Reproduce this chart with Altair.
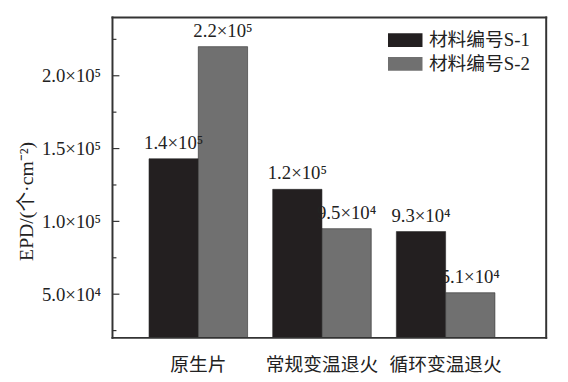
import altair as alt
import pandas as pd

categories = ["原生片", "常规变温退火", "循环变温退火"]
series = ["材料编号S-1", "材料编号S-2"]
s1_values = [143000, 122000, 93000]
s2_values = [220000, 95000, 51000]
s1_labels = ["1.4×10⁵", "1.2×10⁵", "9.3×10⁴"]
s2_labels = ["2.2×10⁵", "9.5×10⁴", "5.1×10⁴"]
major_ticks = [50000, 100000, 150000, 200000]
minor_ticks = [25000, 75000, 125000, 175000, 225000]

rows = []
for i, c in enumerate(categories):
    rows.append({"cat": c, "series": series[0], "value": s1_values[i], "label": s1_labels[i]})
    rows.append({"cat": c, "series": series[1], "value": s2_values[i], "label": s2_labels[i]})
df = pd.DataFrame(rows)

FONT = "Liberation Serif, Noto Sans CJK SC"
ydom = [20000, 240000]
W, H = 440, 325

xscale = alt.Scale(domain=categories, paddingInner=0.203, paddingOuter=0.355, align=0.416)
yscale = alt.Scale(domain=ydom, nice=False, zero=False)

bars = alt.Chart(df).mark_bar(stroke="#2a2a2a", strokeWidth=0.6, clip=True).encode(
    x=alt.X("cat:N", scale=xscale, sort=categories,
            axis=alt.Axis(title=None, labelAngle=0, ticks=False, domain=False,
                          labelFont=FONT, labelFontSize=19, labelColor="#222",
                          labelPadding=18)),
    xOffset=alt.XOffset("series:N", scale=alt.Scale(paddingInner=0, paddingOuter=0)),
    y=alt.Y("value:Q", scale=yscale,
            axis=alt.Axis(title="EPD/(个·cm⁻²)", values=major_ticks, ticks=False, domain=False,
                          grid=False, labelFont=FONT, labelFontSize=19, labelColor="#222",
                          labelPadding=12, titleFont=FONT, titleFontSize=20,
                          titleFontWeight="normal", titleColor="#222", titlePadding=5,
                          titleY=186,
                          labelExpr="datum.value >= 100000 ? format(datum.value/100000, '.1f') + '×10⁵' : format(datum.value/10000, '.1f') + '×10⁴'")),
    color=alt.Color("series:N", scale=alt.Scale(domain=series, range=["#231f20", "#707070"]),
                    legend=alt.Legend(title=None, orient="none", legendX=283, legendY=9,
                                      symbolType="M-1.25,-0.5h2.5v1h-2.5z", symbolSize=784,
                                      symbolStrokeWidth=0, labelFont=FONT, labelFontSize=19,
                                      labelColor="#222", rowPadding=-4, labelOffset=10)),
)

text = alt.Chart(df).mark_text(baseline="bottom", dy=-6, font=FONT, fontSize=19, color="#222").encode(
    x=alt.X("cat:N", scale=xscale, sort=categories),
    xOffset=alt.XOffset("series:N", scale=alt.Scale(paddingInner=0, paddingOuter=0)),
    y=alt.Y("value:Q", scale=yscale),
    text="label:N",
)

major_df = pd.DataFrame({"v": major_ticks})
minor_df = pd.DataFrame({"v": minor_ticks})
major = alt.Chart(major_df).mark_rule(color="#333", strokeWidth=1.2).encode(
    y=alt.Y("v:Q", scale=yscale), x=alt.value(0), x2=alt.value(7))
minor = alt.Chart(minor_df).mark_rule(color="#333", strokeWidth=1.2).encode(
    y=alt.Y("v:Q", scale=yscale), x=alt.value(0), x2=alt.value(4))

one = pd.DataFrame({"a": [0]})
frame_style = dict(color="#333333", strokeWidth=2, strokeCap="square")
frame_top = alt.Chart(one).mark_rule(**frame_style).encode(x=alt.value(0), x2=alt.value(W), y=alt.value(0))
frame_bottom = alt.Chart(one).mark_rule(**frame_style).encode(x=alt.value(0), x2=alt.value(W), y=alt.value(H))
frame_left = alt.Chart(one).mark_rule(**frame_style).encode(y=alt.value(0), y2=alt.value(H), x=alt.value(0))
frame_right = alt.Chart(one).mark_rule(**frame_style).encode(y=alt.value(0), y2=alt.value(H), x=alt.value(W))

chart = alt.layer(bars, text, major, minor, frame_top, frame_bottom, frame_left, frame_right).properties(
    width=W, height=H,
    background="white",
    autosize=alt.AutoSizeParams(type="none"),
    padding={"left": 106, "top": 7, "right": 14, "bottom": 34},
).configure_view(strokeWidth=0)

chart.save("out.html", embed_options={"renderer": "svg", "actions": False})
